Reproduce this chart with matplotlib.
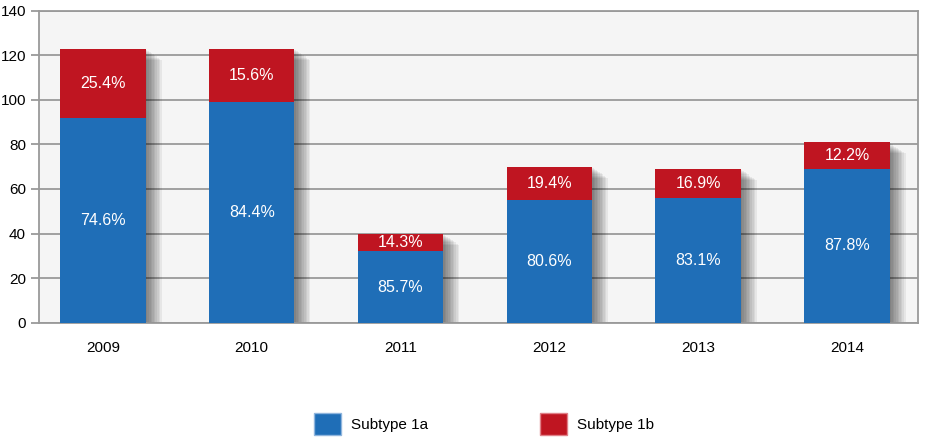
import numpy as np
import matplotlib.pyplot as plt
from matplotlib.patches import Patch

# datos
years = ['2009', '2010', '2011', '2012', '2013', '2014']
subtype_1a = [92, 99, 32, 55, 56, 69]
subtype_1b = [31, 24, 8, 15, 13, 12]
labels_1a = ['74.6%', '84.4%', '85.7%', '80.6%', '83.1%', '87.8%']
labels_1b = ['25.4%', '15.6%', '14.3%', '19.4%', '16.9%', '12.2%']

blue = '#1f6eb7'
red = '#bf1521'

plt.rcParams['font.family'] = ['Liberation Sans', 'DejaVu Sans']

fig = plt.figure(figsize=(9.25, 4.42), dpi=100)
ax = fig.add_axes([38.5 / 925, 1 - 322.7 / 442, (918 - 38.5) / 925, 312 / 442])
ax.set_facecolor('#f5f5f5')

x = np.arange(len(years))
width = 0.575
totals = np.array(subtype_1a) + np.array(subtype_1b)

# sombra difusa a la derecha de cada barra
px = 1 / 148.8
for i in range(1, 11):
    ax.bar(x + i * 1.6 * px, totals - i * 0.5, width, color='black',
           alpha=0.06, linewidth=0, zorder=2)

ax.bar(x, subtype_1a, width, color=blue, zorder=3, linewidth=0)
ax.bar(x, subtype_1b, width, bottom=subtype_1a, color=red, zorder=3, linewidth=0)

for i in range(len(years)):
    ax.text(x[i], subtype_1a[i] / 2, labels_1a[i], color='white', ha='center', va='center',
            fontsize=11.5, zorder=4)
    ax.text(x[i], subtype_1a[i] + subtype_1b[i] / 2, labels_1b[i], color='white', ha='center',
            va='center', fontsize=11.5, zorder=4)

ax.set_ylim(0, 140)
ax.set_xlim(-0.433, 5.478)
ax.set_yticks(range(0, 141, 20))
ax.set_xticks(x)
ax.set_xticklabels(years)
ax.yaxis.grid(True, color='#9a9a9a', linewidth=1.3, zorder=1)
ax.set_axisbelow(True)
ax.tick_params(axis='x', length=0, pad=13, labelsize=11)
ax.tick_params(axis='y', length=6, color='#9a9a9a', width=1.3, pad=3, labelsize=11)
for s in ax.spines.values():
    s.set_color('#9a9a9a')
    s.set_linewidth(1.3)

handles = [Patch(facecolor=blue, edgecolor='#8fb5dd', label='Subtype 1a'),
           Patch(facecolor=red, edgecolor='#e08088', label='Subtype 1b')]
fig.legend(handles=handles, loc='center', bbox_to_anchor=(484 / 925, 1 - 424 / 442), ncol=2,
           frameon=False, fontsize=11, handlelength=1.8, handleheight=1.75,
           handletextpad=0.65, columnspacing=7.3)

fig.savefig('out.png', dpi=100)
